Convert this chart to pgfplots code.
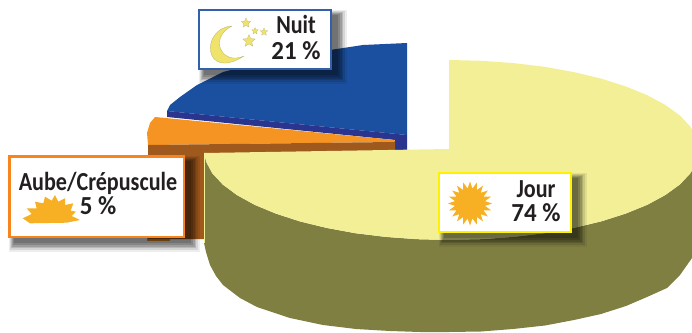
\documentclass[border=0pt]{standalone}
\usepackage{pgfplots}
\pgfplotsset{compat=1.18}
\usepackage{fontspec}
\setmainfont{Carlito}
\usetikzlibrary{shapes.geometric}
\definecolor{yel}{HTML}{F2EF97}
\definecolor{oli}{HTML}{7F7F42}
\definecolor{blu}{HTML}{1B50A0}
\definecolor{dblu}{HTML}{2A3590}
\definecolor{ora}{HTML}{F59422}
\definecolor{bro}{HTML}{A0591C}
\definecolor{sun}{HTML}{F7B023}
\definecolor{moon}{HTML}{EFE36C}
\definecolor{txt}{HTML}{231F20}
\newcommand{\shad}[4]{%
 \fill[black,opacity=.07] (axis cs:#1+1,#2+1) rectangle (axis cs:#3+15,#4+14);
 \fill[black,opacity=.10] (axis cs:#1+2,#2+2) rectangle (axis cs:#3+13,#4+12);
 \fill[black,opacity=.13] (axis cs:#1+3,#2+3) rectangle (axis cs:#3+11,#4+10);
 \fill[black,opacity=.15] (axis cs:#1+4,#2+4) rectangle (axis cs:#3+10,#4+9);
 \fill[black,opacity=.15] (axis cs:#1+5,#2+5) rectangle (axis cs:#3+8,#4+7);
 \fill[black,opacity=.15] (axis cs:#1+6,#2+6) rectangle (axis cs:#3+6,#4+5);
}
\newcommand{\lab}[4]{\node[anchor=base,inner sep=0,text=txt,font=\fontsize{26}{26}\selectfont\bfseries] at (axis cs:#1,#2) {\scalebox{#3}[1]{#4}};}
\begin{document}
\begin{tikzpicture}
\begin{axis}[scale only axis,width=692pt,height=332pt,hide axis,
  xmin=0,xmax=692,ymin=0,ymax=332,y dir=reverse,clip=true]
\path[use as bounding box] (axis cs:0,0) rectangle (axis cs:692,332);
% Nuit: top surface
\addplot[draw=none,fill=blu] coordinates {(407,43)(363,45)(330,50)(290,57)(250,65)(223,72)(197,85)(180,97)(170,105)(167,111)(407,135)};
% Nuit: side
\addplot[draw=none,fill=dblu] coordinates {(167,111)(407,135)(407,150)(395,150)(395,140)(167,117)};
% Aube: top surface
\addplot[draw=none,fill=ora] coordinates {(155,117)(395,140)(393,142)(148,145)(147,133)(150,123)};
% Aube: side
\addplot[draw=none,fill=ora] coordinates {(147,236)(170,236)(170,241)(147,241)};
\addplot[draw=none,fill=bro] coordinates {(148,145)(393,142)(395,141)(395,154)(204,154)(204,239)(148,239)};
% Jour: side
\addplot[draw=none,fill=oli] coordinates {(204,150)(206.1,161.7)(212.3,173.3)(222.6,184.4)(236.8,195)(254.6,204.8)(275.8,213.6)(299.8,221.4)(326.5,227.9)(355.2,233.2)(385.6,236.9)(417,239.2)(449,240)(481.6,239.2)(513.7,236.9)(544.7,233.2)(574,227.9)(601.2,221.4)(625.7,213.6)(647.3,204.8)(665.4,195)(680,184.4)(690.4,173.3)(696.8,161.7)(699,150)
 (699,243)(692,258)(680,275)(667,288)(647,297)(626,306)(601,314)(574,320)(545,325.5)(513,329)(481,331.5)(449,332)(420,332)(390,331)(356,329)(323,325)(290,318)(257,307)(240,298)(223,285)(216,276)(210,265)(206,252)(204,243)};
% Jour: top surface
\addplot[draw=none,fill=yel] coordinates {(204,153)(206.1,161.7)(212.3,173.3)(222.6,184.4)(236.8,195)(254.6,204.8)(275.8,213.6)(299.8,221.4)(326.5,227.9)(355.2,233.2)(385.6,236.9)(417,239.2)(449,240)(481.6,239.2)(513.7,236.9)(544.7,233.2)(574,227.9)(601.2,221.4)(625.7,213.6)(647.3,204.8)(665.4,195)(680,184.4)(690.4,173.3)(696.8,161.7)(699,150)(696.8,138.3)(690.4,126.7)(680,115.6)(665.4,105)(647.3,95.2)(625.7,86.4)(601.2,78.6)(574,72.1)(544.7,66.8)(513.7,63.1)(481.6,60.8)(449,60)(449,149)};
\addplot[yel,line width=.8pt] coordinates {(204,153)(204,243)};
% shadows
\shad{198}{9}{332}{70}
\shad{8}{155}{185}{238}
\shad{438}{172}{572}{233}
% boxes
\draw[blu!90!white,line width=2.2pt,fill=white] (axis cs:199,10) rectangle (axis cs:331,69);
\draw[ora!90!red,line width=2.6pt,fill=white] (axis cs:9.3,156.3) rectangle (axis cs:184,237);
\draw[yellow,line width=2.4pt,fill=white] (axis cs:439,173) rectangle (axis cs:571,232);
% moon
\fill[moon,draw=moon!70!black!80,line width=.3pt] (axis cs:232,26) .. controls (axis cs:200,28) and (axis cs:203,82) .. (axis cs:244,56) .. controls (axis cs:222,66) and (axis cs:208,38) .. (axis cs:232,26);
\node[star,star points=5,star point ratio=2.2,fill=moon,draw=moon!70!black!80,line width=.2pt,inner sep=0,minimum size=10pt] at (axis cs:246,23) {};
\node[star,star points=5,star point ratio=2.2,fill=moon,draw=moon!70!black!80,line width=.2pt,inner sep=0,minimum size=7pt] at (axis cs:255,31) {};
\node[star,star points=5,star point ratio=2.2,fill=moon,draw=moon!70!black!80,line width=.2pt,inner sep=0,minimum size=8pt] at (axis cs:264,32) {};
\node[star,star points=5,star point ratio=2.2,fill=moon,draw=moon!70!black!80,line width=.2pt,inner sep=0,minimum size=13pt] at (axis cs:249,41) {};
% suns
\node[star,star points=20,star point ratio=1.45,fill=sun,inner sep=0,minimum size=44pt] at (axis cs:470,203.5) {};
\fill[sun] (axis cs:22.7,218.3) -- (axis cs:31.7,214) -- (axis cs:26.7,208.3) -- (axis cs:36.7,208.3) -- (axis cs:35,201.7) -- (axis cs:43.3,203.3) -- (axis cs:45,196.7) -- (axis cs:51.7,200.7) -- (axis cs:55,195) -- (axis cs:58.3,201.7) -- (axis cs:65,198.3) -- (axis cs:65,205) -- (axis cs:73.3,203.3) -- (axis cs:70.7,210.7) -- (axis cs:76,211.7) -- (axis cs:71.7,216) -- (axis cs:80,220) -- (axis cs:66.7,222.7) -- (axis cs:30,223.3) -- cycle;
% labels
\lab{296}{33}{.85}{Nuit}
\lab{296}{59}{.96}{21 \%}
\lab{98}{190}{.85}{Aube/Crépuscule}
\lab{98}{214}{.96}{5 \%}
\lab{536}{197}{.85}{Jour}
\lab{536}{221}{.96}{74 \%}
\end{axis}
\end{tikzpicture}
\end{document}
